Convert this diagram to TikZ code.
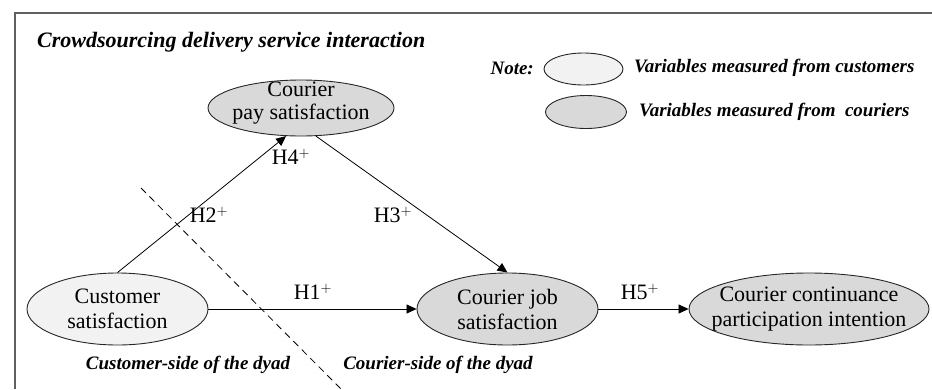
\documentclass[tikz,border=0pt]{standalone}
\usepackage{fontspec}
\setmainfont{Liberation Serif}
\usetikzlibrary{arrows.meta,shapes.geometric}
\definecolor{custfill}{HTML}{F2F2F2}
\definecolor{courfill}{HTML}{D9D9D9}
\definecolor{framegray}{HTML}{606060}
\tikzset{
  var/.style={ellipse, draw=black!85, line width=0.9pt, inner sep=0pt, align=center,
    font=\fontsize{22}{25}\selectfont},
  custvar/.style={var, fill=custfill},
  courvar/.style={var, fill=courfill},
  vartext/.style={inner sep=0pt, align=center, font=\fontsize{22}{25}\selectfont},
  link/.style={line width=0.8pt, -{Triangle[length=10pt,width=9pt]}},
  hyp/.style={font=\fontsize{22}{25}\selectfont, inner sep=0pt},
  note/.style={font=\fontsize{19}{22}\selectfont\bfseries\itshape, inner sep=0pt},
  keyoval/.style={ellipse, draw=black!85, line width=0.9pt, inner sep=0pt}
}
\begin{document}
\begin{tikzpicture}[x=1pt,y=-1pt]
\useasboundingbox (0,0) rectangle (932,389);
% open frame: top and left edges
\draw[framegray, line width=2pt] (15,389) -- (15,13) -- (932,13);

\node[note, font=\fontsize{22}{26}\selectfont\bfseries\itshape, anchor=west] (title) at (37,42) {Crowdsourcing delivery service interaction};

% key
\node[note, anchor=east] (notelbl) at (534,68) {Note:};
\node[keyoval, fill=custfill, minimum width=79pt, minimum height=32pt] (keycust) at (583.5,69) {};
\node[keyoval, fill=courfill, minimum width=81pt, minimum height=33pt] (keycour) at (586,112) {};
\node[note, anchor=west] (keycusttxt) at (634,68) {Variables measured from customers};
\node[note, anchor=west] (keycourtxt) at (639,112) {Variables measured from\ \ couriers};

% constructs (the tight ovals carry their text in a separate node)
\node[courvar, minimum width=186pt, minimum height=56pt] (pay) at (301,108) {};
\node[vartext, font=\fontsize{22}{23}\selectfont] (paytxt) at (301,103) {Courier\\pay satisfaction};
\node[custvar, minimum width=181pt, minimum height=72pt] (cust) at (117.5,309) {Customer\\satisfaction};
\node[courvar, minimum width=181pt, minimum height=72pt] (job) at (507.5,309) {Courier job\\satisfaction};
\node[courvar, minimum width=240pt, minimum height=72pt] (cont) at (809,309) {};
\node[vartext] (conttxt) at (809,309) {Courier continuance\\participation intention};

% dyad boundary
\coordinate (dtop) at (141,188);
\coordinate (dbot) at (341,389);
\draw[line width=0.8pt, dash pattern=on 7pt off 5pt] (dtop) -- (dbot);

% hypothesised paths
\draw[link] (cust.north) -- (pay.-118);
\draw[link] (pay.-62) -- (job.north);
\draw[link] (cust.east) -- (job.west);
\draw[link] (job.east) -- (cont.west);

\node[hyp] (h4) at (291,157) {H4$^{+}$};
\node[hyp] (h2) at (209,215) {H2$^{+}$};
\node[hyp] (h3) at (393,215) {H3$^{+}$};
\node[hyp] (h1) at (313,292) {H1$^{+}$};
\node[hyp] (h5) at (640,292) {H5$^{+}$};

\node[note] (custside) at (188,365) {Customer-side of the dyad};
\node[note] (courside) at (438,365) {Courier-side of the dyad};
\end{tikzpicture}
\end{document}
